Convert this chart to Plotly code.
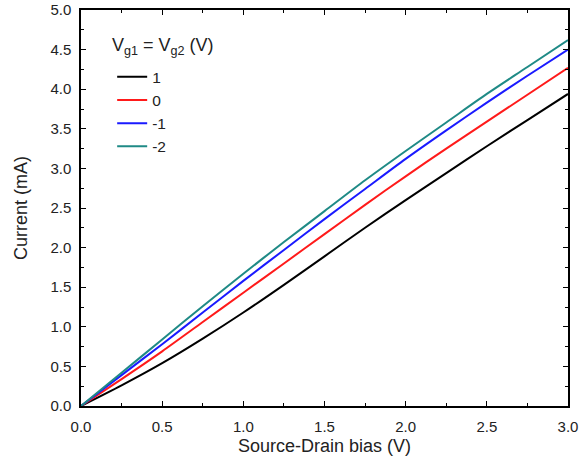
import plotly.graph_objects as go

# ── Data ──────────────────────────────────────────────────────────────────────
bias = [0.0, 0.25, 0.5, 0.75, 1.0, 1.25, 1.5, 1.75, 2.0, 2.25, 2.5, 2.75, 3.0]

current_vg_1 = [0.0, 0.26, 0.54, 0.85, 1.18, 1.53, 1.89, 2.25, 2.60, 2.94, 3.28, 3.61, 3.94]
current_vg_0 = [0.0, 0.34, 0.69, 1.06, 1.43, 1.80, 2.17, 2.54, 2.90, 3.25, 3.59, 3.93, 4.27]
current_vg_m1 = [0.0, 0.39, 0.78, 1.18, 1.58, 1.97, 2.36, 2.74, 3.12, 3.48, 3.83, 4.17, 4.50]
current_vg_m2 = [0.0, 0.42, 0.84, 1.26, 1.67, 2.07, 2.46, 2.85, 3.22, 3.58, 3.94, 4.28, 4.62]

series_labels = ["1", "0", "-1", "-2"]
series_colors = ["#000000", "#ff1a1a", "#1a1aff", "#1f8a86"]

FONT = "Liberation Sans, Arial, sans-serif"
TEXT = "#222222"

fig = go.Figure()
for label, color, ys in zip(
    series_labels,
    series_colors,
    [current_vg_1, current_vg_0, current_vg_m1, current_vg_m2],
):
    fig.add_trace(go.Scatter(
        x=bias,
        y=ys,
        mode="lines",
        line=dict(color=color, width=2, shape="spline", smoothing=0.8),
        name=label,
    ))

axis_common = dict(
    showline=True,
    linecolor="#000000",
    linewidth=1.5,
    mirror="ticks",
    ticks="inside",
    ticklen=5,
    tickwidth=1.2,
    tickcolor="#000000",
    showgrid=False,
    zeroline=False,
    automargin=False,
    tickfont=dict(family=FONT, size=15, color=TEXT),
    tickformat=".1f",
    minor=dict(ticks="inside", ticklen=3, tickwidth=1, tickcolor="#000000", dtick=0.25),
)

fig.update_layout(
    width=580,
    height=463,
    paper_bgcolor="white",
    plot_bgcolor="white",
    margin=dict(l=81, r=12, t=10, b=57),
    font=dict(family=FONT, color=TEXT),
    xaxis=dict(
        range=[0, 3.0],
        dtick=0.5,
        ticklabelstandoff=6,
        title=dict(text="Source-Drain bias (V)", font=dict(family=FONT, size=18), standoff=6),
        **axis_common,
    ),
    yaxis=dict(
        range=[0, 5.0],
        dtick=0.5,
        ticklabelstandoff=5,
        title=dict(text="Current (mA)", font=dict(family=FONT, size=18), standoff=18),
        **axis_common,
    ),
    legend=dict(
        x=0.064,
        y=0.873,
        xanchor="left",
        yanchor="top",
        bgcolor="rgba(0,0,0,0)",
        font=dict(family=FONT, size=15.5, color=TEXT),
        tracegroupgap=0,
    ),
    annotations=[dict(
        text="V<sub>g1</sub> = V<sub>g2</sub> (V)",
        xref="paper", yref="paper",
        x=0.0595, y=0.907,
        xanchor="left", yanchor="middle",
        showarrow=False,
        font=dict(family=FONT, size=18, color=TEXT),
    )],
)

fig.write_html(
    "out.html",
    config={"displayModeBar": False},
    post_script="document.body.style.margin='0';",
)
